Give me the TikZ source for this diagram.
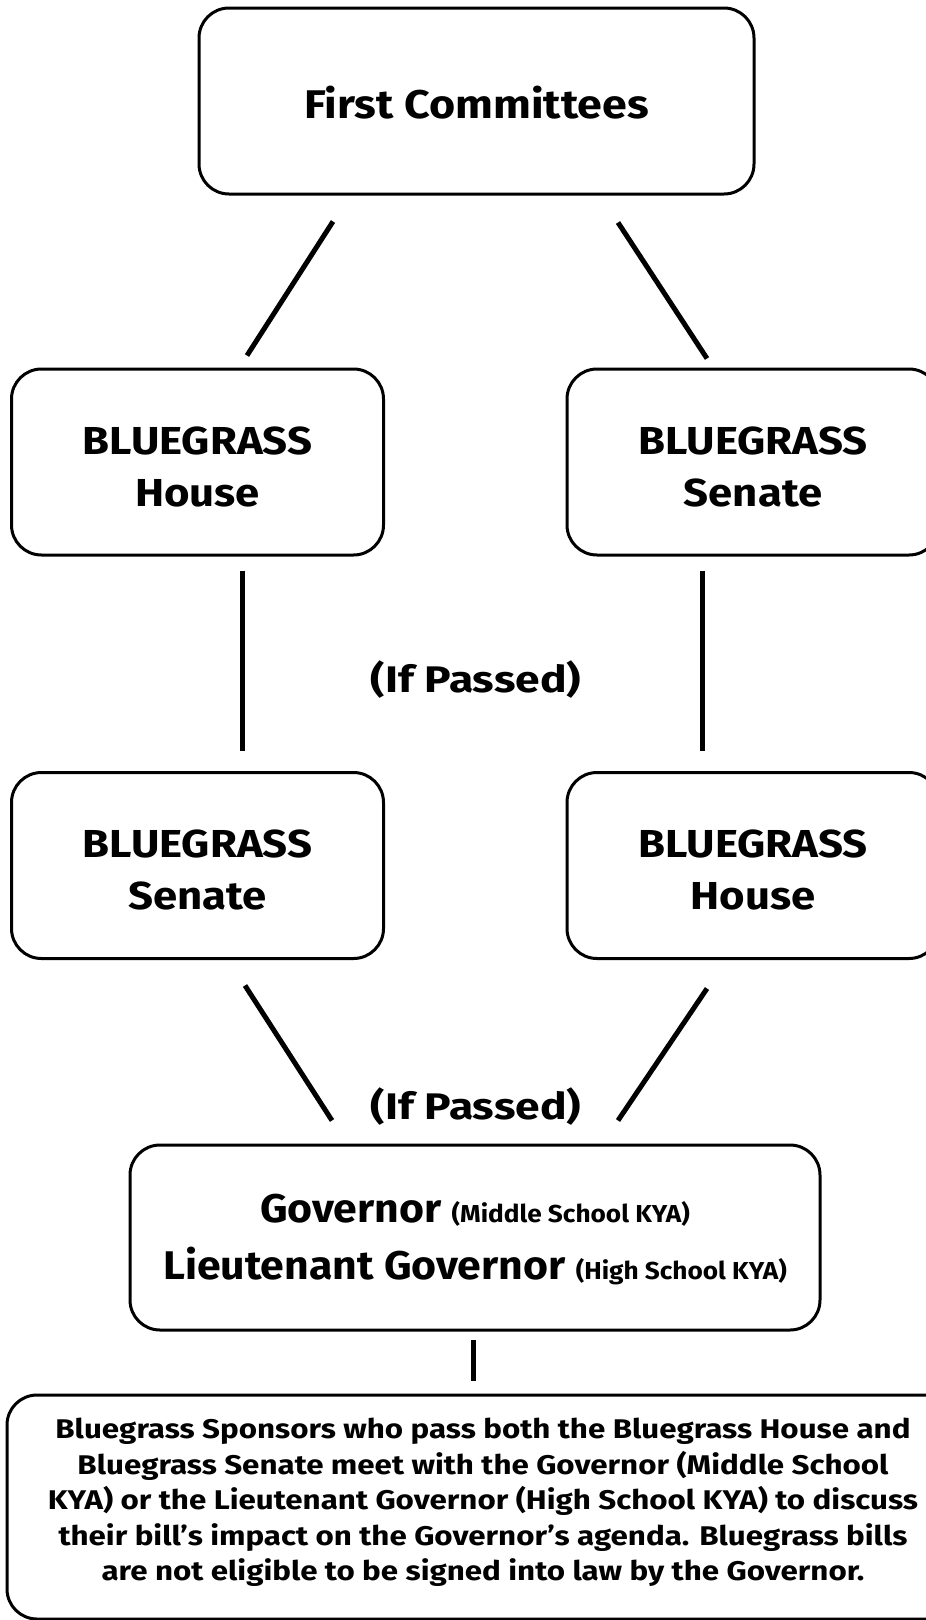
\documentclass[tikz,border=0pt]{standalone}
\usepackage{fontspec}
\setmainfont{Fira Sans}
\newfontfamily\headfont{Fira Sans}[FakeStretch=1.12]
\newfontfamily\passfont{Fira Sans}[FakeStretch=1.2]
\newfontfamily\govfont{Fira Sans}[FakeStretch=1.07]
\newfontfamily\bodyfont{Fira Sans}[FakeStretch=1.16]
\newcommand{\toppad}[1]{\rule{0pt}{#1}}% extra room above the first line
\newcommand{\botpad}[1]{\rule[-#1]{0pt}{1pt}}% extra room below the last line
\usetikzlibrary{positioning}

\tikzset{
  box/.style={draw, line width=3pt, rounded corners=30pt, minimum width=372pt,
    minimum height=186pt, align=center, inner sep=0pt,
    font=\headfont\fontsize{39}{52}\selectfont\bfseries},
  pass/.style={font=\passfont\fontsize{37}{40}\selectfont\bfseries, inner sep=0pt},
  link/.style={line width=5pt},
}

\begin{document}
\begin{tikzpicture}[x=1pt,y=-1pt]
	\useasboundingbox[fill=white] (0,0) rectangle (926,1620);
	\node[box, minimum width=555pt, font=\headfont\fontsize{40}{52}\selectfont\bfseries] (fc) at (476.5,101) {\toppad{36pt}First Committees};
	\node[box] (h1) at (197.5,462) {\toppad{37pt}BLUEGRASS\\House};%first house
	\node[box] (s1) at (753,462) {\toppad{37pt}BLUEGRASS\\Senate};%first senate
	\node[box] (s2) at (197.5,865.5) {\toppad{37pt}BLUEGRASS\\Senate};
	\node[box] (h2) at (753,865.5) {\toppad{37pt}BLUEGRASS\\House};
	\node[pass] (p1) at (476,680) {(If Passed)};
	\node[pass] (p2) at (476,1107) {(If Passed)};
	\node[box, minimum width=690pt, minimum height=185pt, font=\govfont\fontsize{40}{57}\selectfont\bfseries] (gov) at (475,1237.5)
		{\toppad{33pt}Governor {\fontsize{24.5}{26}\selectfont (Middle School KYA)}\\
		 Lieutenant Governor {\fontsize{24.5}{26}\selectfont (High School KYA)}};
	\node[box, minimum width=952pt, minimum height=224pt, font=\bodyfont\fontsize{27}{35.5}\selectfont\bfseries] (info) at (483,1507)
		{Bluegrass Sponsors who pass both the Bluegrass House and\\
		 Bluegrass Senate meet with the Governor (Middle School\\
		 KYA) or the Lieutenant Governor (High School KYA) to discuss\\
		 their bill’s impact on the Governor’s agenda. Bluegrass bills\\
		 are not eligible to be signed into law by the Governor.\botpad{15pt}};
	\draw[link] ([xshift=-143.5pt,yshift=-26pt]fc.south) -- ([xshift=49.5pt,yshift=12pt]h1.north);
	\draw[link] ([xshift=141.5pt,yshift=-27pt]fc.south) -- ([xshift=-46pt,yshift=9pt]s1.north);
	\draw[link] ([xshift=44.5pt,yshift=-14pt]h1.south) -- ([xshift=44.5pt,yshift=20.5pt]s2.north);
	\draw[link] ([xshift=-51pt,yshift=-14pt]s1.south) -- ([xshift=-51pt,yshift=20.5pt]h2.north);
	\draw[link] ([xshift=47.5pt,yshift=-25.5pt]s2.south) -- ([xshift=-143pt,yshift=23pt]gov.north);
	\draw[link] ([xshift=-46pt,yshift=-28.5pt]h2.south) -- ([xshift=143pt,yshift=23pt]gov.north);
	\draw[link] ([xshift=-2pt,yshift=-8pt]gov.south) -- ([xshift=-10pt,yshift=13pt]info.north);
\end{tikzpicture}
\end{document}
